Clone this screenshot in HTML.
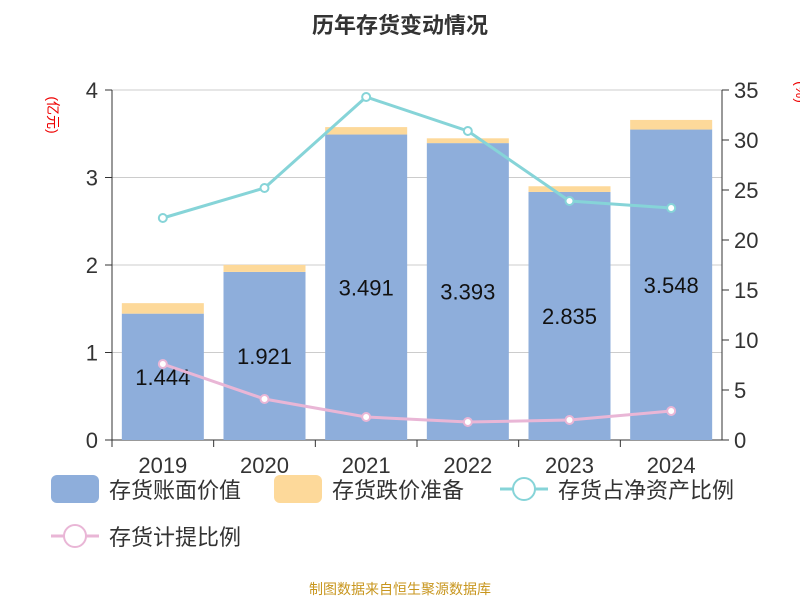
<!DOCTYPE html>
<html><head><meta charset="utf-8"><style>
body{margin:0;background:#fff;}
svg text{font-family:"Liberation Sans","Noto Sans CJK SC",sans-serif;}
</style></head><body>
<svg id="c" width="800" height="600" xmlns="http://www.w3.org/2000/svg">
<text x="400" y="33" text-anchor="middle" font-size="22" font-weight="bold" fill="#333">历年存货变动情况</text>
<text transform="translate(48,115) rotate(90)" text-anchor="middle" font-size="14" fill="#e00">(亿元)</text>
<text transform="translate(796,92) rotate(90)" text-anchor="middle" font-size="14" fill="#e00">(%)</text>
<g id="grid"></g><g id="bars"></g><g id="lines"></g><g id="axes"></g>
<g id="legend"></g>
<text x="400" y="594" text-anchor="middle" font-size="14" fill="#c8961e">制图数据来自恒生聚源数据库</text>
</svg>
<script>
const categories=["2019","2020","2021","2022","2023","2024"];
const bookValue=[1.444,1.921,3.491,3.393,2.835,3.548];
const reserve=[0.12,0.08,0.085,0.055,0.065,0.11];
const netAssetRatio=[22.2,25.2,34.3,30.9,23.9,23.2];
const provisionRatio=[7.6,4.1,2.3,1.8,2.0,2.9];
const leftTicks=[0,1,2,3,4];
const rightTicks=[0,5,10,15,20,25,30,35];
const NS="http://www.w3.org/2000/svg";
const X0=112,X1=722,Y0=440,Y1=90;
const band=(X1-X0)/categories.length;
const xc=i=>X0+band*(i+0.5);
const yl=v=>Y0-(v/4)*(Y0-Y1);
const yr=v=>Y0-(v/35)*(Y0-Y1);
function mk(tag,attrs,parent,text){const e=document.createElementNS(NS,tag);for(const k in attrs)e.setAttribute(k,attrs[k]);if(text!==undefined)e.textContent=text;document.getElementById(parent).appendChild(e);return e;}
leftTicks.forEach(t=>{
 const g=mk('line',{x1:X0,x2:X1,y1:yl(t),y2:yl(t),stroke:t===0?'#333':'#ccc','stroke-width':1},'grid');
 
 
 const tk=mk('line',{x1:X0-7,x2:X0,y1:yl(t),y2:yl(t),stroke:'#333'},'axes');
 
 
 const l=mk('text',{x:X0-14,y:yl(t)+8,'text-anchor':'end','font-size':22,fill:'#333'},'axes',String(t));
 
 
});
rightTicks.forEach(t=>{
 const tk=mk('line',{x1:X1,x2:X1+7,y1:yr(t),y2:yr(t),stroke:'#333'},'axes');
 
 
 const l=mk('text',{x:X1+12,y:yr(t)+8,'font-size':22,fill:'#333'},'axes',String(t));
 
 
});
let a=mk('line',{x1:X0,x2:X0,y1:Y1,y2:Y0,stroke:'#333'},'axes');


a=mk('line',{x1:X1,x2:X1,y1:Y1,y2:Y0,stroke:'#333'},'axes');


categories.forEach((c,i)=>{
 const tk=mk('line',{x1:X0+band*i,x2:X0+band*i,y1:Y0,y2:Y0+7,stroke:'#333'},'axes');
 
 
 const l=mk('text',{x:xc(i),y:Y0+33,'text-anchor':'middle','font-size':22,fill:'#333'},'axes',c);
 
 
 const w=82;
 const b=mk('rect',{x:xc(i)-w/2,y:yl(bookValue[i]),width:w,height:Y0-yl(bookValue[i]),fill:'#8eaedb'},'bars');
 
 
 const r=mk('rect',{x:xc(i)-w/2,y:yl(bookValue[i]+reserve[i]),width:w,height:yl(bookValue[i])-yl(bookValue[i]+reserve[i]),fill:'#fdd99a'},'bars');
 
 
 const v=mk('text',{x:xc(i),y:(yl(bookValue[i])+Y0)/2+8,'text-anchor':'middle','font-size':22,fill:'#111'},'bars',bookValue[i].toFixed(3));
 
 
});
function line(data,color,name){
 const p=mk('polyline',{points:data.map((v,i)=>xc(i)+','+yr(v)).join(' '),fill:'none',stroke:color,'stroke-width':3},'lines');
 
 
 data.forEach((v,i)=>{
  const m=mk('circle',{cx:xc(i),cy:yr(v),r:4,fill:'#fff',stroke:color,'stroke-width':2},'lines');
  
  
 });
}
line(netAssetRatio,'#86d4d8','net-asset-ratio');
line(provisionRatio,'#e9b6d6','provision-ratio');
function legRect(x,y,color,label,name){
 const g=mk('g',{},'legend');
 
 
 const r=document.createElementNS(NS,'rect');
 r.setAttribute('x',x);r.setAttribute('y',y);r.setAttribute('width',48);r.setAttribute('height',28);r.setAttribute('rx',6);r.setAttribute('fill',color);g.appendChild(r);
 const t=document.createElementNS(NS,'text');
 t.setAttribute('x',x+58);t.setAttribute('y',y+23);t.setAttribute('font-size',22);t.setAttribute('fill','#333');t.textContent=label;g.appendChild(t);
}
function legLine(x,y,color,label,name){
 const g=mk('g',{},'legend');
 
 
 const l=document.createElementNS(NS,'line');
 l.setAttribute('x1',x);l.setAttribute('x2',x+48);l.setAttribute('y1',y);l.setAttribute('y2',y);l.setAttribute('stroke',color);l.setAttribute('stroke-width',3);g.appendChild(l);
 const c=document.createElementNS(NS,'circle');
 c.setAttribute('cx',x+24);c.setAttribute('cy',y);c.setAttribute('r',11);c.setAttribute('fill','#fff');c.setAttribute('stroke',color);c.setAttribute('stroke-width',2);g.appendChild(c);
 const t=document.createElementNS(NS,'text');
 t.setAttribute('x',x+58);t.setAttribute('y',y+9);t.setAttribute('font-size',22);t.setAttribute('fill','#333');t.textContent=label;g.appendChild(t);
}
legRect(51,475,'#8eaedb','存货账面价值','legend-book-value');
legRect(274,475,'#fdd99a','存货跌价准备','legend-reserve');
legLine(500,489,'#86d4d8','存货占净资产比例','legend-net-asset-ratio');
legLine(51,536,'#e9b6d6','存货计提比例','legend-provision-ratio');
</script>
</body></html>
